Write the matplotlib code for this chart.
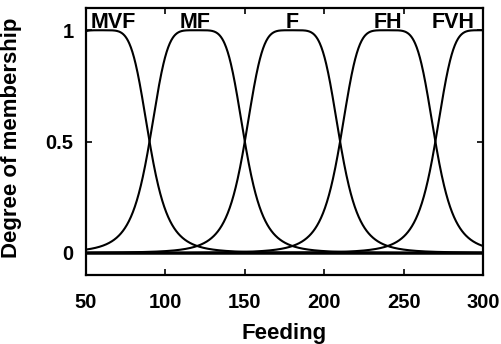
import numpy as np
import matplotlib
matplotlib.use("Agg")
import matplotlib.pyplot as plt

plt.rcParams['font.family'] = ['Liberation Sans', 'DejaVu Sans']
plt.rcParams['font.weight'] = 'bold'

labels = ["MVF", "MF", "F", "FH", "FVH"]
centers = [60, 120, 180, 240, 300]
widths = [30, 30, 30, 30, 30]
slopes = [2.5, 2.5, 2.5, 2.5, 2.5]
label_x = [67, 119, 180, 240, 281]
xticks = [50, 100, 150, 200, 250, 300]
yticks = [0, 0.5, 1]
ytick_labels = ["0", "0.5", "1"]

fig = plt.figure(figsize=(5.01, 3.44), dpi=100)
ax = fig.add_axes([86/501, 1-275/344, (483-86)/501, (275-8)/344])

x = np.linspace(50, 300, 1001)
for c, a, b in zip(centers, widths, slopes):
    y = 1.0 / (1.0 + np.abs((x - c) / a) ** (2 * b))
    ax.plot(x, y, color='black', lw=1.5)
ax.axhline(0, color='black', lw=1.8)

for lab, lx in zip(labels, label_x):
    ax.text(lx, 1.035, lab, ha='center', va='center', fontsize=15.5, fontweight='bold')

ax.set_xlim(50, 300)
ax.set_ylim(-0.1, 1.1)
ax.set_xticks(xticks)
ax.set_yticks(yticks)
ax.set_yticklabels(ytick_labels)
ax.tick_params(direction='in', top=True, right=True, labelsize=14.5, length=4, width=1.2)
ax.tick_params(axis='x', pad=13)
ax.tick_params(axis='y', pad=9)
for s in ax.spines.values():
    s.set_linewidth(1.6)
ax.set_xlabel("Feeding", fontsize=16, fontweight='bold', labelpad=8)
ax.set_ylabel("Degree of membership", fontsize=16, fontweight='bold', labelpad=6)
ax.yaxis.set_label_coords(-0.16, 0.515)

fig.savefig("out.png", dpi=100)
